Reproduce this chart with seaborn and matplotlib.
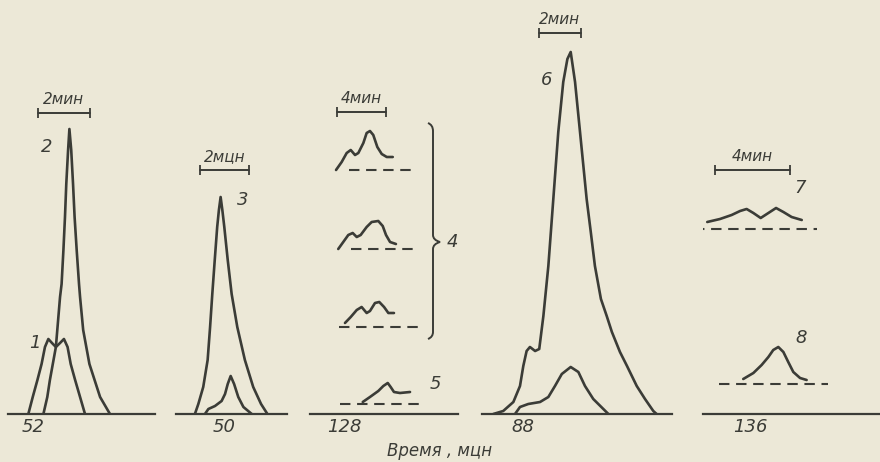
import matplotlib
matplotlib.use("Agg")
import matplotlib.pyplot as plt
from matplotlib import font_manager
import numpy as np
import pandas as pd
import seaborn as sns
from matplotlib.path import Path
from matplotlib.patches import PathPatch

# ---------------- data ----------------
# time in minutes, signal in relative units (height above the panel baseline)
# Panel 52 min: curves 1 and 2
t_c1 = [51.82, 51.99, 52.17, 52.33, 52.46, 52.59, 52.73, 52.88, 53.04, 53.19, 53.33, 53.45, 53.62, 53.81, 54.00]
h_c1 = [0, 17, 34, 50, 67, 75, 71, 67, 71, 75, 67, 50, 34, 17, 0]
t_c2 = [52.40, 52.55, 52.65, 52.88, 53.04, 53.10, 53.17, 53.23, 53.28, 53.35, 53.40, 53.47, 53.54, 53.60, 53.68,
        53.77, 53.81, 53.93, 54.17, 54.58, 54.96]
h_c2 = [0, 17, 34, 67, 117, 130, 164, 197, 230, 264, 285, 264, 230, 197, 164, 130, 117, 84, 50, 17, 0]

# Panel 50 min: curve 3 and its small companion
t_c3 = [48.80, 48.94, 49.14, 49.32, 49.42, 49.51, 49.61, 49.71, 49.78, 49.85, 49.92, 50.00, 50.14, 50.30, 50.53,
        50.84, 51.18, 51.50, 51.76]
h_c3 = [0, 10, 27, 54, 87, 120, 154, 187, 204, 217, 204, 187, 154, 120, 87, 54, 27, 10, 0]
t_c3b = [49.21, 49.35, 49.62, 49.89, 50.03, 50.14, 50.26, 50.40, 50.57, 50.78, 51.12]
h_c3b = [0, 5, 8, 13, 20, 30, 38, 30, 17, 7, 0]

# Panel 128 min: three traces of 4 and trace 5 (each with its own dashed zero line)
t_c4a = [127.35, 127.81, 128.22, 128.55, 128.90, 129.17, 129.58, 129.85, 130.12, 130.39, 130.72, 131.08, 131.49, 131.98]
h_c4a = [244, 252, 261, 264, 259, 261, 271, 281, 283, 279, 267, 260, 257, 257]
t_c4b = [127.53, 127.94, 128.35, 128.71, 129.04, 129.36, 129.85, 130.26, 130.80, 131.16, 131.43, 131.76, 132.24]
h_c4b = [165, 172, 179, 181, 177, 179, 187, 192, 193, 188, 179, 172, 170]
t_c4c = [128.08, 128.55, 129.04, 129.44, 129.85, 130.12, 130.53, 130.88, 131.27, 131.62, 132.08]
h_c4c = [91, 97, 104, 107, 101, 103, 111, 112, 107, 101, 101]
t_c5 = [129.53, 130.12, 130.80, 131.21, 131.57, 131.81, 132.08, 132.57, 133.39]
h_c5 = [12, 17, 23, 28, 31, 27, 22, 21, 22]
zero_128_level = [244, 165, 87, 10]
zero_128_start = [128.43, 128.55, 127.62, 127.67]
zero_128_end = [133.93, 133.93, 134.34, 134.45]

# Panel 88 min: curve 6 and its small companion
t_c6 = [86.55, 87.03, 87.52, 87.84, 88.00, 88.16, 88.32, 88.57, 88.77, 88.97, 89.21, 89.45, 89.69, 89.93, 90.13,
        90.29, 90.50, 90.74, 91.06, 91.26, 91.46, 91.75, 92.03, 92.28, 92.67, 93.01, 93.48, 93.88, 94.28, 94.44]
h_c6 = [0, 3, 12, 28, 48, 63, 67, 63, 65, 98, 148, 215, 282, 332, 355,
        362, 332, 282, 215, 182, 148, 115, 98, 82, 62, 48, 28, 15, 3, 0]
t_c6b = [87.60, 87.84, 88.24, 88.81, 89.21, 89.53, 89.86, 90.29, 90.66, 90.98, 91.38, 92.11]
h_c6b = [0, 7, 10, 12, 17, 28, 40, 47, 42, 28, 15, 0]

# Panel 136 min: traces 7 and 8
t_c7 = [133.72, 134.40, 135.02, 135.47, 135.82, 136.18, 136.57, 136.98, 137.39, 137.78, 138.22, 138.76]
h_c7 = [192, 195, 199, 203, 205, 201, 196, 201, 206, 202, 197, 194]
t_c8 = [135.64, 136.18, 136.62, 136.98, 137.24, 137.51, 137.78, 138.04, 138.31, 138.67, 139.02]
h_c8 = [35, 41, 49, 57, 64, 67, 62, 52, 42, 36, 34]
zero_136_level = [185, 30]
zero_136_start = [133.01, 134.36]
zero_136_end = [139.56, 140.18]

tick_times = [52, 50, 128, 88, 136]
scale_minutes = [2, 2, 4, 2, 4]
scale_texts = ["2мин", "2мцн", "4мин", "2мин", "4мин"]
axis_title = "Время , мцн"

# ---------------- styling ----------------
BG = "#ece8d7"
INK = "#3b3c37"
sns.set_style("white")
installed = {f.name for f in font_manager.fontManager.ttflist}
fam = [f for f in ["Liberation Sans Narrow", "DejaVu Sans Condensed", "DejaVu Sans"] if f in installed]
plt.rcParams["font.family"] = fam + (["DejaVu Sans"] if "DejaVu Sans" not in fam else [])
plt.rcParams["font.style"] = "italic"

W, H = 880, 462
BASE = 414  # baseline pixel row
fig = plt.figure(figsize=(W / 100, H / 100), dpi=100, facecolor=BG)

# layout of each panel: left/right pixel extent, pixel of the tick, pixels per minute
layout = [
    dict(xl=8, xr=155, tp=33, ppm=26.0, tl=0),
    dict(xl=176, xr=287, tp=224.3, ppm=24.5, tl=7),
    dict(xl=310, xr=458, tp=344, ppm=12.25, tl=6.5),
    dict(xl=482, xr=672, tp=523.3, ppm=20.7, tl=4.5),
    dict(xl=703, xr=880, tp=750, ppm=18.75, tl=7),
]
curves = [
    [("1", t_c1, h_c1), ("2", t_c2, h_c2)],
    [("3", t_c3, h_c3), ("3b", t_c3b, h_c3b)],
    [("4a", t_c4a, h_c4a), ("4b", t_c4b, h_c4b), ("4c", t_c4c, h_c4c), ("5", t_c5, h_c5)],
    [("6", t_c6, h_c6), ("6b", t_c6b, h_c6b)],
    [("7", t_c7, h_c7), ("8", t_c8, h_c8)],
]
zeros = [None, None,
         (zero_128_level, zero_128_start, zero_128_end), None,
         (zero_136_level, zero_136_start, zero_136_end)]
# scale bar placement: (start time, height of bar)
scale_pos = [(52.19, 301), (49.01, 244), (127.43, 302), (88.77, 381), (134.13, 244)]
# curve labels: (panel, text, time, height)
labels = [(0, "2", 52.54, 267), (0, "1", 52.08, 71), (1, "3", 50.76, 214),
          (2, "4", 136.85, 172), (2, "5", 135.45, 30), (3, "6", 89.15, 334),
          (4, "7", 138.67, 226), (4, "8", 138.72, 76)]

axes = []
for i, L in enumerate(layout):
    ax = fig.add_axes([L["xl"] / W, (H - BASE) / H, (L["xr"] - L["xl"]) / W, BASE / H])
    ax.set_facecolor("none")
    tv = tick_times[i]
    ax.set_xlim(tv - (L["tp"] - L["xl"]) / L["ppm"], tv + (L["xr"] - L["tp"]) / L["ppm"])
    ax.set_ylim(0, BASE)
    rows = []
    for name, t, h in curves[i]:
        rows += [dict(t=a, h=b, curve=name) for a, b in zip(t, h)]
    df = pd.DataFrame(rows)
    sns.lineplot(data=df, x="t", y="h", units="curve", estimator=None, sort=False,
                 color=INK, linewidth=1.9, ax=ax, legend=False)
    for ln in ax.lines:
        ln.set_solid_joinstyle("round")
        ln.set_solid_capstyle("round")
    if zeros[i] is not None:
        lv, st, en = zeros[i]
        ax.hlines(lv, st, en, colors=INK, linewidth=1.5, linestyles=(0, (5, 3.2)))
    for s in ["left", "right", "top"]:
        ax.spines[s].set_visible(False)
    ax.spines["bottom"].set_color(INK)
    ax.spines["bottom"].set_linewidth(1.6)
    ax.set_yticks([])
    ax.set_xticks([tv])
    ax.set_xticklabels([str(tv)], fontsize=13, color=INK, style="italic")
    ax.tick_params(axis="x", direction="in", length=L["tl"], width=1.2, color=INK, pad=3)
    ax.set_xlabel("")
    ax.set_ylabel("")
    # scale bar
    s0, hb = scale_pos[i]
    ax.plot([s0, s0 + scale_minutes[i]], [hb, hb], color=INK, lw=1.4,
            marker="|", markersize=7, markeredgewidth=1.3, clip_on=False)
    ax.text(s0 + scale_minutes[i] / 2, hb + 6, scale_texts[i], ha="center", va="bottom",
            fontsize=11, color=INK, style="italic", clip_on=False)
    axes.append(ax)

for pi, txt, tx, hy in labels:
    axes[pi].text(tx, hy, txt, ha="center", va="center", fontsize=13, color=INK,
                  style="italic", clip_on=False)

# brace grouping the three traces of 4
ax3 = axes[2]
def px2t(px):
    L = layout[2]
    return tick_times[2] + (px - L["tp"]) / L["ppm"]
verts = [(px2t(428), 291), (px2t(433), 289), (px2t(433), 283),
         (px2t(433), 179),
         (px2t(433), 174), (px2t(440), 172),
         (px2t(433), 170), (px2t(433), 165),
         (px2t(433), 82),
         (px2t(433), 77), (px2t(428), 75)]
codes = [Path.MOVETO, Path.CURVE3, Path.CURVE3, Path.LINETO, Path.CURVE3, Path.CURVE3,
         Path.CURVE3, Path.CURVE3, Path.LINETO, Path.CURVE3, Path.CURVE3]
ax3.add_patch(PathPatch(Path(verts, codes), facecolor="none", edgecolor=INK, lw=1.4, clip_on=False))

fig.text(440 / W, 1 - 451 / H, axis_title, ha="center", va="center", fontsize=12,
         color=INK, style="italic")

fig.savefig("out.png", dpi=100, facecolor=BG)
